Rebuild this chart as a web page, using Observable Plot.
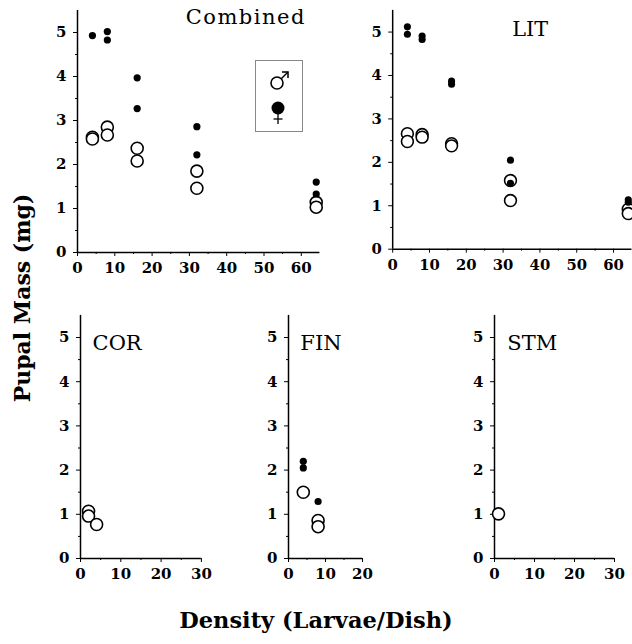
<!DOCTYPE html>
<html>
<head>
<meta charset="utf-8">
<script src="https://cdn.jsdelivr.net/npm/d3@7"></script>
<script src="https://cdn.jsdelivr.net/npm/@observablehq/plot@0.6"></script>
<style>
  html, body { margin: 0; padding: 0; background: #fff; }
  #page { position: relative; width: 632px; height: 644px; overflow: hidden; font-family: "DejaVu Serif", serif; }
  .panel { position: absolute; }
  .ylab { position: absolute; left: 22px; top: 298px; transform: translate(-50%, -50%) rotate(-90deg); font: bold 22px "DejaVu Serif", serif; white-space: nowrap; color: #000; }
  .xlab { position: absolute; left: 316px; top: 620px; transform: translate(-50%, -50%); font: bold 22.5px "DejaVu Serif", serif; white-space: nowrap; color: #000; }
  #legend { position: absolute; left: 255px; top: 60px; width: 48px; height: 72px; border: 1px solid #888; box-sizing: border-box; }
</style>
</head>
<body>
<div id="page">
  <div class="ylab">Pupal Mass (mg)</div>
  <div class="xlab">Density (Larvae/Dish)</div>
</div>
<script>
// ---- Data ----
const panelNames = ["Combined", "LIT", "COR", "FIN", "STM"];

const combinedFemaleDensity = [4, 8, 8, 16, 16, 32, 32, 64, 64];
const combinedFemaleMass    = [4.93, 5.02, 4.83, 3.97, 3.27, 2.86, 2.22, 1.60, 1.33];
const combinedMaleDensity   = [4, 4, 8, 8, 16, 16, 32, 32, 64, 64];
const combinedMaleMass      = [2.62, 2.58, 2.85, 2.67, 2.37, 2.08, 1.85, 1.46, 1.14, 1.03];

const litFemaleDensity = [4, 4, 8, 8, 16, 16, 32, 32, 64, 64];
const litFemaleMass    = [5.12, 4.95, 4.91, 4.83, 3.87, 3.80, 2.05, 1.52, 1.14, 1.08];
const litMaleDensity   = [4, 4, 8, 8, 16, 16, 32, 32, 64, 64];
const litMaleMass      = [2.66, 2.48, 2.64, 2.58, 2.43, 2.38, 1.58, 1.12, 0.92, 0.82];

const corFemaleDensity = [];
const corFemaleMass    = [];
const corMaleDensity   = [2, 2, 4];
const corMaleMass      = [1.07, 0.96, 0.77];

const finFemaleDensity = [4, 4, 8];
const finFemaleMass    = [2.20, 2.05, 1.29];
const finMaleDensity   = [4, 8, 8];
const finMaleMass      = [1.50, 0.86, 0.72];

const stmFemaleDensity = [];
const stmFemaleMass    = [];
const stmMaleDensity   = [1];
const stmMaleMass      = [1.01];

const yTicks = [0, 1, 2, 3, 4, 5];
const xTicksTop = [0, 10, 20, 30, 40, 50, 60];
const xTicks30 = [0, 10, 20, 30];
const xTicks20 = [0, 10, 20];

function rows(d, m) { return d.map((x, i) => ({density: x, mass: m[i]})); }

const FONT = "DejaVu Serif, serif";

function panel({name, left, top, width, height, ox, oy, xpx, ypx, xmax, xTicks, xMinor, female, male, titleX, titleY, spacing}) {
  const ymax = 5.5;
  const x0 = ox - left, y0 = oy - top;
  const yMinor = d3.range(0.5, ymax, 1);
  const plot = Plot.plot({
    width, height,
    marginLeft: x0,
    marginRight: width - (x0 + xpx * xmax),
    marginBottom: height - y0,
    marginTop: y0 - ypx * ymax,
    style: {background: "transparent", overflow: "visible", fontFamily: FONT},
    x: {domain: [0, xmax]},
    y: {domain: [0, ymax]},
    marks: [
      Plot.ruleX([0], {y1: 0, y2: ymax, stroke: "#000", strokeWidth: 1.5}),
      Plot.ruleY([0], {x1: 0, x2: xmax, stroke: "#000", strokeWidth: 1.5}),
      Plot.axisY({ticks: yMinor, tickSize: 2, tickFormat: () => "", label: null}),
      Plot.axisY({ticks: yTicks, tickSize: 4, tickPadding: 7, tickFormat: d => d, fontSize: 15, fontWeight: "bold", label: null}),
      Plot.axisX({ticks: xMinor, tickSize: 2, tickFormat: () => "", label: null}),
      Plot.axisX({ticks: xTicks, tickSize: 4, tickPadding: 6, tickFormat: d => d, fontSize: 15, fontWeight: "bold", label: null}),
      Plot.dot(male, {x: "density", y: "mass", r: 6, stroke: "#000", strokeWidth: 1.6, fill: "#fff"}),
      Plot.dot(female, {x: "density", y: "mass", r: 3.6, fill: "#000", stroke: "none"}),
      Plot.text([name], {x: titleX, y: titleY, text: d => d, fontSize: 21, fontFamily: FONT, textAnchor: "start", fill: "#000"})
    ]
  });
  plot.style.color = "#000";
  if (spacing) {
    plot.querySelectorAll("text").forEach(t => { if (t.textContent === name) t.setAttribute("letter-spacing", spacing); });
  }
  const div = document.createElement("div");
  div.className = "panel";
  div.style.left = left + "px";
  div.style.top = top + "px";
  div.appendChild(plot);
  document.getElementById("page").appendChild(div);
  return plot;
}

const topMinor = d3.range(5, 65, 10);
panel({name: panelNames[0], left: 0, top: 0, width: 330, height: 285, ox: 77, oy: 252, xpx: 3.73, ypx: 44, xmax: 65,
  xTicks: xTicksTop, xMinor: topMinor,
  female: rows(combinedFemaleDensity, combinedFemaleMass), male: rows(combinedMaleDensity, combinedMaleMass),
  titleX: 29.0, titleY: 5.34, spacing: 1.5});
panel({name: panelNames[1], left: 330, top: 0, width: 306, height: 285, ox: 393, oy: 252, xpx: 3.73, ypx: 44, xmax: 65,
  xTicks: xTicksTop, xMinor: topMinor,
  female: rows(litFemaleDensity, litFemaleMass), male: rows(litMaleDensity, litMaleMass),
  titleX: 32.5, titleY: 5.07});
panel({name: panelNames[2], left: 0, top: 290, width: 215, height: 310, ox: 80, oy: 558, xpx: 4.03, ypx: 44.2, xmax: 30,
  xTicks: xTicks30, xMinor: [5, 15, 25],
  female: rows(corFemaleDensity, corFemaleMass), male: rows(corMaleDensity, corMaleMass),
  titleX: 3.0, titleY: 4.86});
panel({name: panelNames[3], left: 215, top: 290, width: 160, height: 310, ox: 288, oy: 558, xpx: 3.7, ypx: 44.2, xmax: 20,
  xTicks: xTicks20, xMinor: [5, 15],
  female: rows(finFemaleDensity, finFemaleMass), male: rows(finMaleDensity, finMaleMass),
  titleX: 3.2, titleY: 4.86});
panel({name: panelNames[4], left: 420, top: 290, width: 212, height: 310, ox: 494, oy: 558, xpx: 4.0, ypx: 44.2, xmax: 30,
  xTicks: xTicks30, xMinor: [5, 15, 25],
  female: rows(stmFemaleDensity, stmFemaleMass), male: rows(stmMaleDensity, stmMaleMass),
  titleX: 3.2, titleY: 4.86});

// Legend (♂ open circle, ♀ filled circle)
const legend = document.createElement("div");
legend.id = "legend";
legend.innerHTML = `<svg width="46" height="70" viewBox="0 0 46 70">
  <circle cx="21" cy="22" r="6" fill="#fff" stroke="#000" stroke-width="1.6"/>
  <line x1="25.5" y1="17.5" x2="32" y2="11" stroke="#000" stroke-width="1.5"/>
  <polyline points="26,11 32,11 32,17" fill="none" stroke="#000" stroke-width="1.5"/>
  <circle cx="22" cy="47" r="6.5" fill="#000"/>
  <line x1="22" y1="53" x2="22" y2="63" stroke="#000" stroke-width="1.3"/>
  <line x1="17.5" y1="58" x2="26.5" y2="58" stroke="#000" stroke-width="1.3"/>
</svg>`;
document.getElementById("page").appendChild(legend);
</script>
</body>
</html>
